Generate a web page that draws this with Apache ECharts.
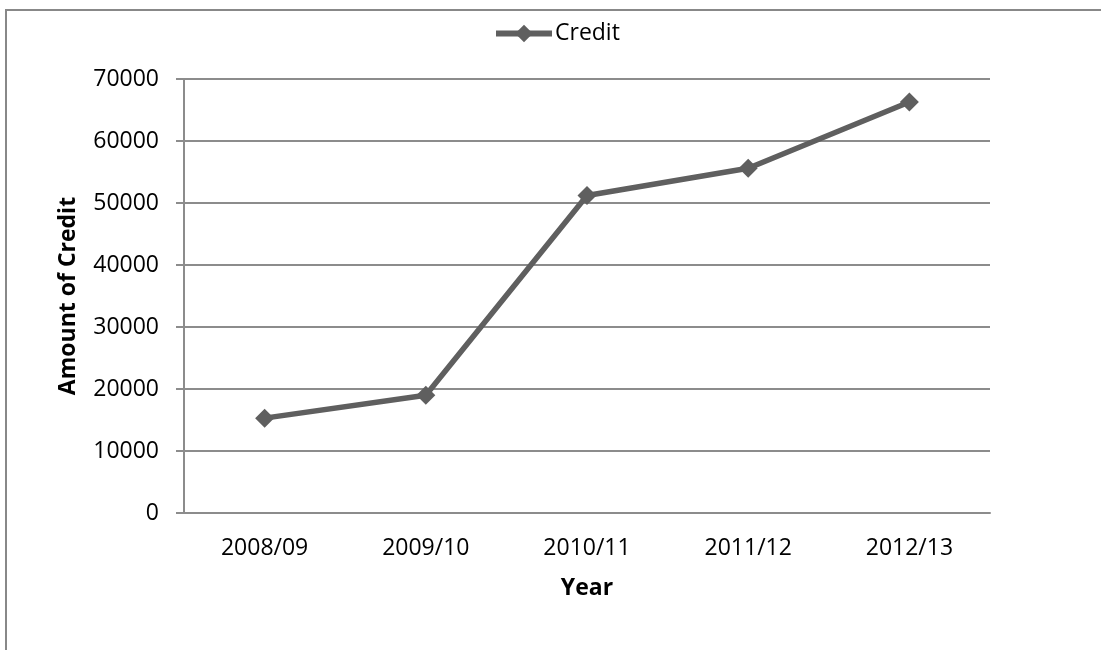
<!DOCTYPE html>
<html>
<head>
<meta charset="utf-8">
<script src="https://cdn.jsdelivr.net/npm/echarts@6/dist/echarts.min.js"></script>
<style>
  html, body { margin: 0; padding: 0; background: #ffffff; }
  #chart { width: 1101px; height: 650px; }
</style>
</head>
<body>
<div id="chart"></div>
<script>
// Credit amounts by financial year
const years = ['2008/09', '2009/10', '2010/11', '2011/12', '2012/13'];
const creditValues = [15300, 19000, 51200, 55600, 66300];
const seriesName = 'Credit';
const xAxisTitle = 'Year';
const yAxisTitle = 'Amount of Credit';

const FONT = '"Open Sans", "Noto Sans", sans-serif';
const GRID_GRAY = '#8c8c8c';
const LINE_GRAY = '#5f5f5f';

const chart = echarts.init(document.getElementById('chart'), null, { renderer: 'canvas' });

chart.setOption({
  backgroundColor: '#ffffff',
  animation: false,
  graphic: [{
    // outer chart frame, runs off the right and bottom edges
    type: 'rect',
    shape: { x: 6, y: 10, width: 1200, height: 1000 },
    style: { fill: 'none', stroke: '#888888', lineWidth: 2 },
    silent: true
  }],
  legend: {
    data: [seriesName],
    left: 493,
    top: 22,
    padding: 0,
    itemWidth: 56,
    itemHeight: 22,
    itemStyle: { color: LINE_GRAY },
    lineStyle: { color: LINE_GRAY, width: 6 },
    textStyle: { fontFamily: FONT, fontSize: 23, color: '#000000', padding: [0, 0, 0, -2] }
  },
  grid: { left: 184, right: 111, top: 79, bottom: 137, containLabel: false },
  xAxis: {
    type: 'category',
    data: years,
    boundaryGap: true,
    name: xAxisTitle,
    nameLocation: 'middle',
    nameGap: 64,
    nameTextStyle: { fontFamily: FONT, fontSize: 23, fontWeight: 'bold', color: '#000000' },
    axisLine: { show: true, lineStyle: { color: GRID_GRAY, width: 2 } },
    axisTick: { show: false },
    axisLabel: { margin: 24, fontFamily: FONT, fontSize: 23, color: '#000000' }
  },
  yAxis: {
    type: 'value',
    min: 0,
    max: 70000,
    interval: 10000,
    name: yAxisTitle,
    nameLocation: 'middle',
    nameRotate: 90,
    nameGap: 104,
    nameTextStyle: { fontFamily: FONT, fontSize: 23, fontWeight: 'bold', color: '#000000' },
    axisLine: { show: true, lineStyle: { color: GRID_GRAY, width: 2 } },
    axisTick: { show: true, inside: false, length: 8, lineStyle: { color: GRID_GRAY, width: 2 } },
    axisLabel: {
      margin: 25, fontFamily: FONT, fontSize: 23, color: '#000000',
      formatter: (v) => String(v)
    },
    splitLine: { show: true, lineStyle: { color: GRID_GRAY, width: 2 } }
  },
  series: [{
    name: seriesName,
    type: 'line',
    data: creditValues,
    symbol: 'diamond',
    symbolSize: 19,
    showAllSymbol: true,
    lineStyle: { color: LINE_GRAY, width: 5.5 },
    itemStyle: { color: LINE_GRAY, borderColor: LINE_GRAY, borderWidth: 0 }
  }]
});
</script>
</body>
</html>
